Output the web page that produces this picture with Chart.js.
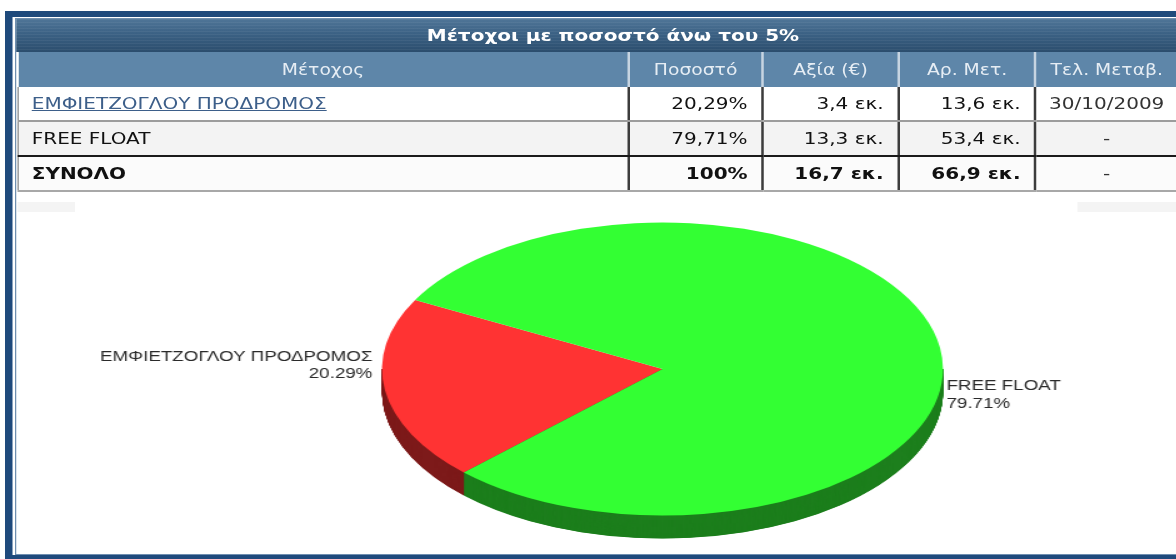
<!DOCTYPE html>
<html>
<head>
<meta charset="utf-8">
<script src="https://cdn.jsdelivr.net/npm/chart.js@4.4.1/dist/chart.umd.min.js"></script>
<style>
  html, body { margin: 0; padding: 0; background: #fff; width: 1176px; height: 559px; overflow: hidden; }
  /* the reference is a horizontally stretched screenshot: lay out narrow, stretch by 1.25 */
  #wrap { position: absolute; left: 0; top: 0; width: 941px; height: 559px; transform: scaleX(1.25); transform-origin: 0 0;
          font-family: "DejaVu Sans", Verdana, sans-serif; }
  #frame { position: absolute; left: 4px; top: 11px; width: 1000px; height: 538px;
           border-left: 6px solid #1f4a7c; border-top: 6px solid #1f4a7c; border-bottom: 6px solid #1f4a7c; }
  #inner { position: absolute; left: 12px; top: 18px; width: 1000px; height: 535px; border: 1px solid #6f8fb0; border-right: 0; }
  #title { position: absolute; left: 13.4px; top: 19px; width: 930px; height: 33px; box-sizing: border-box; padding-left: 24px;
           background: repeating-linear-gradient(180deg, rgba(255,255,255,0.05) 0 1px, rgba(0,0,0,0) 1px 3px),
                       linear-gradient(180deg, #4f7597 0%, #3b6184 45%, #2b4d6d 100%);
           color: #fff; font-weight: bold; font-size: 16px; line-height: 33px; text-align: center; }
  #tbl { position: absolute; left: 14.4px; top: 52px; width: 926.4px; border-collapse: collapse; table-layout: fixed; }
  #tbl th { height: 35px; padding: 0; background: #5e86a9; color: #e6edf4; font-weight: normal; font-size: 15px;
            text-align: center; border-left: 2px solid #c6d4e1; }
  #tbl th:first-child { border-left: 0; }
  #tbl td { height: 33px; padding: 0 11px 0 10px; font-size: 16px; color: #111; white-space: nowrap;
            border-left: 2px solid #3c3c3c; border-bottom: 2px solid #9c9c9c; text-align: right; }
  #tbl td:first-child { text-align: left; border-left: 1px solid #888; padding-left: 10px; }
  #tbl td.c { text-align: center; padding: 0; font-weight: normal; color: #333; }
  #tbl tr.r1 td { background: #fff; }
  #tbl tr.r2 td { background: #f3f3f3; border-bottom: 2px solid #1a1a1a; }
  #tbl tr.r3 td { background: #fbfbfb; font-weight: bold; border-bottom: 2px solid #a8a8a8; }
  #tbl tr.r3 td.c { font-weight: normal; }
  #tbl a { color: #3d5f8a; text-decoration: underline; }
  .strip { position: absolute; top: 202px; height: 10px; background: #f4f4f4; }
  #chartBox { position: absolute; left: 14.4px; top: 195px; width: 926px; height: 358px; }
</style>
</head>
<body>
<div id="wrap">
  <div id="frame"></div>
  <div id="inner"></div>
  <div id="title">Μέτοχοι με ποσοστό άνω του 5%</div>
  <table id="tbl">
    <colgroup>
      <col style="width:488px"><col style="width:107.2px"><col style="width:108.8px"><col style="width:109.6px"><col style="width:112.8px">
    </colgroup>
    <thead><tr id="head"></tr></thead>
    <tbody id="body"></tbody>
  </table>
  <div class="strip" style="left:14.4px;width:46px"></div>
  <div class="strip" style="left:862px;width:79px"></div>
  <div id="chartBox"><canvas id="pie" width="926" height="358"></canvas></div>
</div>

<script>
// data
const columns = ["Μέτοχος", "Ποσοστό", "Αξία (€)", "Αρ. Μετ.", "Τελ. Μεταβ."];
const holders = ["ΕΜΦΙΕΤΖΟΓΛΟΥ ΠΡΟΔΡΟΜΟΣ", "FREE FLOAT"];
const percents = [20.29, 79.71];
const valuesEur = [3.4, 13.3];      // εκ. €
const sharesMil = [13.6, 53.4];     // εκ. μετοχές
const lastChange = ["30/10/2009", "-"];
const totalRow = ["ΣΥΝΟΛΟ", 100, 16.7, 66.9, "-"];

const sliceColors = ["#ff3333", "#33ff33"];
const sideColors = ["#7d1a1a", "#1d7f1d"];

const gr = (n, d) => n.toFixed(d).replace(".", ",");

// table
document.getElementById("head").innerHTML = columns.map(c => "<th>" + c + "</th>").join("");
let rows = "";
holders.forEach((h, i) => {
  const name = i === 0 ? '<a>' + h + '</a>' : h;
  rows += '<tr class="r' + (i + 1) + '"><td>' + name + '</td><td>' + gr(percents[i], 2) + '%</td><td>' +
    gr(valuesEur[i], 1) + ' εκ.</td><td>' + gr(sharesMil[i], 1) + ' εκ.</td><td class="c">' + lastChange[i] + '</td></tr>';
});
rows += '<tr class="r3"><td>' + totalRow[0] + '</td><td>' + totalRow[1] + '%</td><td>' + gr(totalRow[2], 1) +
  ' εκ.</td><td>' + gr(totalRow[3], 1) + ' εκ.</td><td class="c">' + totalRow[4] + '</td></tr>';
document.getElementById("body").innerHTML = rows;

// tilted pie with a side wall, drawn from the library's arc elements
const pie3d = {
  id: "pie3d",
  beforeDatasetsDraw(chart, args, opts) {
    const ctx = chart.ctx;
    const arcs = chart.getDatasetMeta(0).data;
    const cx = arcs[0].x, cy = arcs[0].y;
    ctx.save();
    // side wall only shows under the front half
    ctx.beginPath();
    ctx.rect(0, cy, chart.width, chart.height - cy);
    ctx.clip();
    ctx.translate(cx, cy);
    ctx.scale(1, opts.tilt);
    ctx.translate(-cx, -cy);
    const depth = opts.depth / opts.tilt;
    for (let d = depth; d > 0; d -= 0.5) {
      arcs.forEach((arc, i) => {
        ctx.beginPath();
        ctx.moveTo(arc.x, arc.y + d);
        ctx.arc(arc.x, arc.y + d, arc.outerRadius, arc.startAngle, arc.endAngle);
        ctx.closePath();
        ctx.fillStyle = sideColors[i];
        ctx.fill();
      });
    }
    ctx.restore();
    ctx.save();
    ctx.translate(cx, cy);
    ctx.scale(1, opts.tilt);
    ctx.translate(-cx, -cy);
    arcs.forEach(arc => arc.draw(ctx));
    ctx.restore();
    return false;
  },
  afterDraw(chart, args, opts) {
    const ctx = chart.ctx;
    const arcs = chart.getDatasetMeta(0).data;
    ctx.save();
    ctx.font = '15px "Liberation Sans", Arial, sans-serif';
    ctx.fillStyle = "#2a2a2a";
    arcs.forEach((arc, i) => {
      const p = opts.labels[i];
      const x = arc.x + p.side * (arc.outerRadius + p.gap);
      ctx.textAlign = p.side < 0 ? "right" : "left";
      ctx.fillText(chart.data.labels[i], x, arc.y + p.dy);
      ctx.fillText(percents[i].toFixed(2) + "%", x, arc.y + p.dy + p.lh);
    });
    ctx.restore();
  }
};

new Chart(document.getElementById("pie"), {
  type: "pie",
  data: {
    labels: holders,
    datasets: [{
      data: percents,
      backgroundColor: sliceColors,
      borderWidth: 0,
      radius: 224.4,
      clip: false
    }]
  },
  options: {
    responsive: false,
    animation: false,
    events: [],
    rotation: 225.1,
    layout: { padding: { left: 106, right: 0, top: 0, bottom: 10 } },
    plugins: {
      legend: { display: false },
      tooltip: { enabled: false },
      pie3d: {
        tilt: 0.653,
        depth: 23,
        labels: [
          { side: -1, gap: 7.7, dy: -8, lh: 17 },
          { side: 1, gap: 2.8, dy: 21, lh: 18 }
        ]
      }
    }
  },
  plugins: [pie3d]
});
</script>
</body>
</html>
